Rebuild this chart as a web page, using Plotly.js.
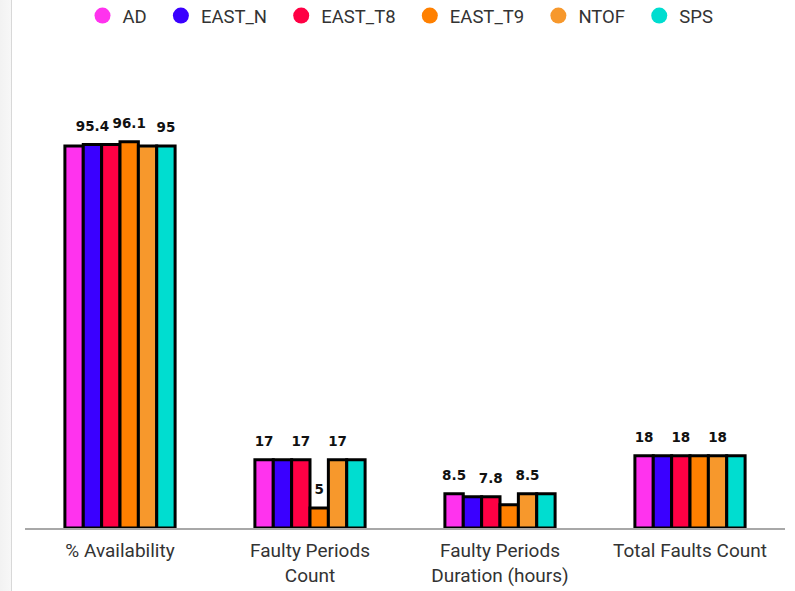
<!DOCTYPE html>
<html>
<head>
<meta charset="utf-8">
<script src="https://cdn.plot.ly/plotly-3.0.1.min.js"></script>
<style>
  html, body { margin: 0; padding: 0; background: #ffffff; }
  #strip { position: absolute; left: 0; top: 0; width: 11px; height: 591px;
           background: linear-gradient(to right, #f2f2f2, #f7f7f7); border-right: 1px solid #d8d8d8; z-index: 2; }
  #chart { position: absolute; left: 0; top: 0; width: 795px; height: 591px; }
</style>
</head>
<body>
<div id="strip"></div>
<div id="chart"></div>
<script>
// ---- data ----
const categories = ['% Availability', 'Faulty Periods<br>Count', 'Faulty Periods<br>Duration (hours)', 'Total Faults Count'];
const seriesNames = ['AD', 'EAST_N', 'EAST_T8', 'EAST_T9', 'NTOF', 'SPS'];
const AD      = [95,   17, 8.5, 18];
const EAST_N  = [95.4, 17, 7.8, 18];
const EAST_T8 = [95.4, 17, 7.8, 18];
const EAST_T9 = [96.1, 5,  5.8, 18];
const NTOF    = [95,   17, 8.5, 18];
const SPS     = [95,   17, 8.5, 18];
// which data labels are visible (others hidden as overlapping in the original)
const labelShown = {
  AD:      [false, true,  true,  true],
  EAST_N:  [true,  false, false, false],
  EAST_T8: [false, true,  true,  true],
  EAST_T9: [true,  true,  false, false],
  NTOF:    [false, true,  true,  true],
  SPS:     [true,  false, false, false]
};
const colors = ['#ff33ee', '#3a00ff', '#ff0044', '#ff8000', '#f7982c', '#00ddd0'];

const values = [AD, EAST_N, EAST_T8, EAST_T9, NTOF, SPS];
const traces = [];
// bars
values.forEach((vals, i) => {
  traces.push({
    type: 'bar', x: categories, y: vals, name: seriesNames[i], showlegend: false,
    marker: { color: colors[i], line: { color: '#000000', width: 3 } },
    hoverinfo: 'none'
  });
});
// data labels (grouped scatter aligned with the bars)
values.forEach((vals, i) => {
  const name = seriesNames[i];
  traces.push({
    type: 'scatter', mode: 'markers+text', x: categories, y: vals, name: name, showlegend: false,
    text: vals.map((v, j) => labelShown[name][j] ? String(v) : ''),
    textposition: 'top center', cliponaxis: false,
    marker: { size: 15, opacity: 0, color: colors[i] },
    textfont: { family: 'DejaVu Sans, sans-serif', size: 13.5, color: '#111111', weight: 'bold' },
    hoverinfo: 'none'
  });
});
// legend entries (circles), on a hidden overlay axis so they don't affect grouping
values.forEach((vals, i) => {
  traces.push({
    type: 'scatter', mode: 'markers', x: [null], y: [null], name: seriesNames[i] + '\u00a0\u00a0',
    xaxis: 'x2', yaxis: 'y2',
    marker: { symbol: 'circle', size: 17, color: colors[i] }, showlegend: true, hoverinfo: 'none'
  });
});

const layout = {
  width: 795, height: 591,
  margin: { l: 25, r: 10, t: 126, b: 63, autoexpand: false },
  paper_bgcolor: '#ffffff', plot_bgcolor: '#ffffff',
  barmode: 'group', bargap: 0.42, bargroupgap: 0,
  scattermode: 'group', scattergap: 0.42,
  showlegend: true,
  legend: {
    orientation: 'h', x: 0.5, xanchor: 'center', y: 1.2736, yanchor: 'middle',
    font: { family: 'Roboto, sans-serif', size: 18.5, color: '#333333' },
    itemclick: false
  },
  xaxis: {
    type: 'category', showline: true, linecolor: '#a8a8a8', linewidth: 2, automargin: false,
    showgrid: false, zeroline: false, ticks: '', ticklabelstandoff: 4,
    tickfont: { family: 'Roboto, sans-serif', size: 19, color: '#333333' }
  },
  yaxis: { range: [0, 100], visible: false, showgrid: false, zeroline: false, fixedrange: true, automargin: false },
  xaxis2: { overlaying: 'x', visible: false, range: [0, 1] },
  yaxis2: { overlaying: 'y', visible: false, range: [0, 1] }
};

Plotly.newPlot('chart', traces, layout, { displayModeBar: false, staticPlot: true });
</script>
</body>
</html>
